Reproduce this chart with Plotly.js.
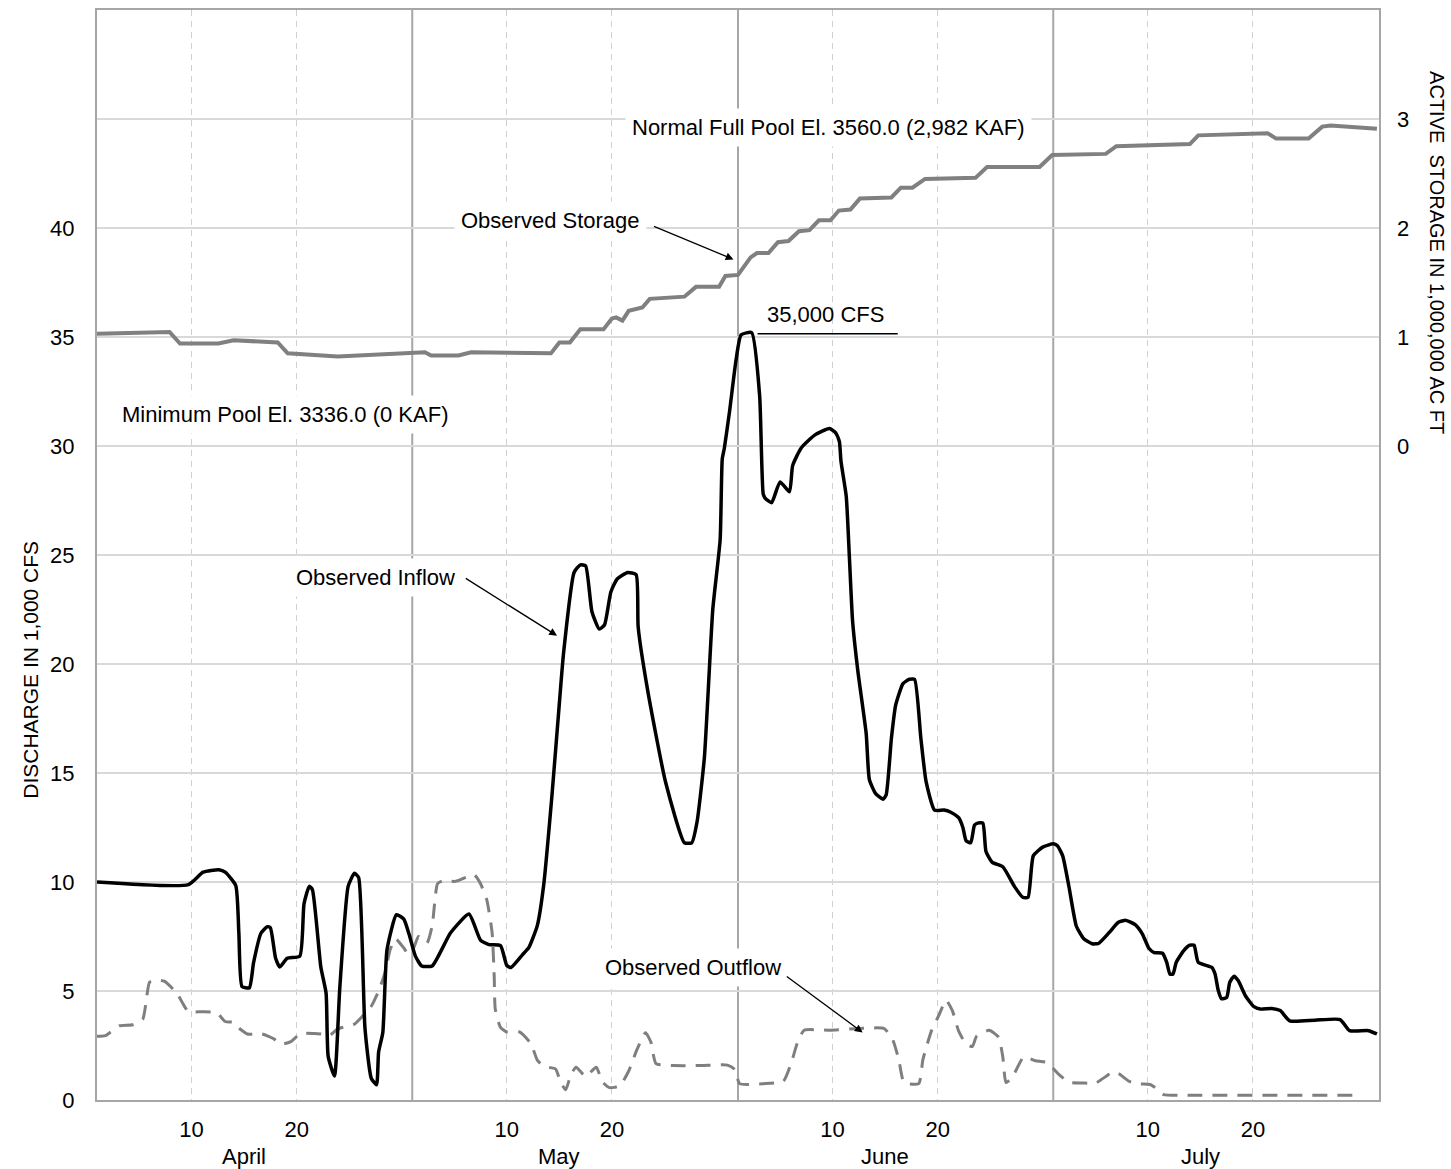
<!DOCTYPE html>
<html>
<head>
<meta charset="utf-8">
<script src="https://cdn.plot.ly/plotly-3.0.1.min.js"></script>
<style>html,body{margin:0;padding:0;background:#fff;}#chart{width:1451px;height:1169px;}</style>
</head>
<body>
<div id="chart"></div>
<script>
// ---- data (date as "month/day", fractional day allowed) ----
const inflowDate = ['4/1','4/9.7','4/11.1','4/12.6','4/13.2','4/14.2','4/14.5','4/14.8','4/15.5','4/15.9','4/16.6','4/17.2','4/17.5','4/18','4/18.4','4/19.1','4/20.3','4/20.7','4/21.2','4/21.5','4/22.3','4/22.8','4/23','4/23.6','4/24.1','4/24.9','4/25.5','4/25.9','4/26.5','4/27.1','4/27.6','4/27.8','4/28.2','4/28.6','4/29.5','4/30.2','4/30.7','5/1.3','5/1.9','5/2.9','5/4.65','5/6.4','5/7.5','5/8.3','5/9.4','5/10','5/10.4','5/11.5','5/12.1','5/12.9','5/13.5','5/14.3','5/15','5/15.4','5/16.4','5/17','5/17.5','5/18.1','5/18.8','5/19.3','5/19.9','5/20.5','5/21.5','5/22.3','5/22.5','5/23.4','5/25.1','5/26.9','5/27.6','5/28.1','5/28.8','5/29.6','5/30.3','5/30.5','5/30.7','5/31.2','5/31.8','6/1.3','6/2.3','6/3.06','6/3.4','6/3.6','6/4.2','6/5','6/5.9','6/6.2','6/7','6/8.3','6/9.7','6/10.3','6/10.65','6/10.8','6/11.3','6/11.6','6/11.9','6/12.4','6/13.2','6/13.5','6/14.1','6/14.8','6/15.1','6/15.6','6/16','6/16.7','6/17.3','6/17.8','6/18.4','6/18.9','6/19.7','6/20.6','6/21.25','6/22','6/22.4','6/22.7','6/23.15','6/23.5','6/23.8','6/24.3','6/24.6','6/25.2','6/26.2','6/27.3','6/28.1','6/28.6','6/29.1','6/30','7/1','7/1.4','7/1.9','7/2.5','7/3.2','7/3.9','7/4.7','7/5.3','7/6.3','7/7.2','7/7.9','7/8.8','7/9.5','7/10.1','7/10.6','7/11.4','7/11.8','7/12.1','7/12.4','7/12.7','7/13.4','7/14','7/14.4','7/14.8','7/16.1','7/16.4','7/16.7','7/17','7/17.5','7/17.8','7/18.2','7/18.6','7/19.3','7/20.1','7/20.7','7/21.8','7/22.6','7/23.5','7/25.9','7/28.3','7/29.2','7/31','7/31.8'];
const inflowKcfs = [10.0,9.88,10.45,10.56,10.45,9.85,7.65,5.2,5.15,6.3,7.65,7.95,7.9,6.5,6.1,6.5,6.6,9.0,9.8,9.65,6.1,4.9,2.0,1.1,5.1,9.8,10.4,10.2,3.3,1.0,0.7,2.2,3.1,6.9,8.5,8.3,7.6,6.6,6.15,6.15,7.67,8.53,7.33,7.13,7.08,6.17,6.08,6.67,7.0,8.0,9.83,14.0,18.2,20.5,24.2,24.55,24.5,22.4,21.6,21.8,23.3,23.9,24.2,24.1,21.7,18.8,14.6,11.8,11.8,12.75,15.7,22.5,25.7,29.4,29.9,31.6,33.9,35.1,35.2,32.3,27.8,27.6,27.4,28.35,27.9,29.1,29.9,30.5,30.8,30.6,30.2,29.3,27.7,24.9,22.0,19.7,16.8,14.7,14.05,13.8,14.0,16.6,18.1,19.1,19.3,19.3,16.6,14.6,13.3,13.3,13.2,12.95,12.5,11.9,11.8,12.6,12.7,12.7,11.4,10.9,10.7,9.8,9.3,9.3,11.2,11.6,11.75,11.66,11.2,9.77,7.97,7.4,7.17,7.18,7.67,8.15,8.24,8.04,7.6,6.96,6.76,6.73,6.31,5.78,5.78,6.31,6.84,7.1,7.1,6.31,6.08,5.78,5.03,4.65,4.7,5.4,5.68,5.48,4.77,4.28,4.17,4.2,4.1,3.63,3.66,3.69,3.18,3.18,3.03];

const outflowDate = ['4/1','4/1.8','4/3.1','4/4.4','4/5.35','4/6','4/6.6','4/7.4','4/8.6','4/9.2','4/9.7','4/11.1','4/12.4','4/13.2','4/14','4/14.3','4/15.3','4/16.7','4/17.85','4/18.3','4/18.8','4/19.45','4/20.1','4/20.7','4/22.3','4/23.1','4/23.9','4/25.5','4/26.3','4/27.1','4/27.8','4/28.4','4/28.9','4/29.4','4/30.2','4/30.6','5/1.15','5/1.6','5/2.4','5/2.9','5/3.4','5/3.86','5/5.1','5/5.9','5/6.9','5/7.5','5/8.1','5/8.6','5/8.8','5/8.9','5/9.4','5/10','5/11.2','5/12.3','5/12.9','5/13.5','5/14.65','5/15.1','5/15.6','5/16.1','5/16.6','5/17.5','5/18.5','5/19.1','5/19.7','5/20.2','5/20.8','5/21.6','5/22.4','5/23.2','5/23.7','5/24.2','5/25.9','5/28.5','5/31','5/31.7','6/1.16','6/3.4','6/5.3','6/6.1','6/6.7','6/7.3','6/9.7','6/12.5','6/14.9','6/15.7','6/16.3','6/16.8','6/18.2','6/18.6','6/19.4','6/20.1','6/20.8','6/21.4','6/22','6/22.7','6/23.3','6/23.7','6/24.9','6/25.8','6/26.2','6/26.5','6/27.1','6/28.2','6/29.3','6/30.4','7/1.5','7/2.5','7/3.75','7/5','7/6.1','7/6.6','7/7.2','7/8.2','7/9.1','7/10.2','7/10.9','7/11.5','7/13.9','7/30'];
const outflowKcfs = [2.92,2.95,3.4,3.45,3.7,5.4,5.5,5.45,4.9,4.4,4.05,4.05,4.0,3.6,3.56,3.38,3.03,3.03,2.8,2.58,2.58,2.68,2.95,3.06,3.03,2.95,3.26,3.48,3.86,4.3,5.0,5.83,6.9,7.4,6.97,6.7,7.0,7.5,7.2,8.0,9.92,10.05,10.03,10.17,10.33,9.92,9.17,7.67,5.67,4.17,3.33,3.12,3.12,2.58,1.83,1.55,1.42,0.83,0.47,1.17,1.5,1.08,1.5,0.83,0.58,0.58,0.67,1.33,2.33,3.08,2.67,1.67,1.58,1.58,1.6,1.4,0.75,0.75,0.85,1.75,2.7,3.2,3.2,3.28,3.28,2.8,1.86,0.8,0.75,1.86,3.16,3.87,4.58,4.1,3.16,2.57,2.45,2.92,3.2,2.88,1.98,0.8,1.04,1.98,1.8,1.72,1.19,0.81,0.78,0.77,1.11,1.27,1.22,0.86,0.74,0.71,0.51,0.25,0.22,0.22];

const storageDate = ['4/1','4/7.9','4/8.9','4/12.55','4/14','4/18.2','4/19.15','4/21.3','4/23.9','5/2.2','5/2.8','5/5.4','5/6.6','5/14.2','5/15','5/16','5/17','5/19.2','5/20','5/20.4','5/21','5/21.6','5/22.9','5/23.6','5/26.9','5/28','5/30.2','5/30.8','6/1','6/2.2','6/2.8','6/3.9','6/4.8','6/5.8','6/6.8','6/7.8','6/8.7','6/9.8','6/10.6','6/11.7','6/12.6','6/15.6','6/16.5','6/17.6','6/18.8','6/23.6','6/24.7','6/29.7','6/30.9','7/6','7/7','7/14','7/14.8','7/21.4','7/22.2','7/25.3','7/26.6','7/27.4','7/31.8'];
const storageMaf = [1.03,1.046,0.94,0.94,0.97,0.95,0.85,0.84,0.82,0.86,0.83,0.83,0.86,0.85,0.95,0.95,1.07,1.07,1.17,1.18,1.15,1.24,1.27,1.35,1.37,1.46,1.46,1.56,1.57,1.73,1.77,1.77,1.87,1.88,1.97,1.98,2.07,2.07,2.16,2.17,2.27,2.28,2.37,2.37,2.45,2.46,2.56,2.56,2.67,2.68,2.75,2.77,2.85,2.87,2.82,2.82,2.93,2.94,2.91];

const dayTickDates = ['4/10','4/20','5/10','5/20','6/10','6/20','7/10','7/20'];
const dayTickText = ['10','20','10','20','10','20','10','20'];
const monthLabelDates = ['4/15','5/15','6/15','7/15'];
const monthLabels = ['April','May','June','July'];
const monthBoundaryDates = ['5/1','6/1','7/1'];
const leftTicks = [0,5,10,15,20,25,30,35,40,45];
const leftTickText = ['0','5','10','15','20','25','30','35','40',''];
const rightTicks = [0,1,2,3];

// ---- helpers ----
const YEAR = 2011;
function toDate(s){
  const p = s.split('/');
  const m = +p[0], d = +p[1];
  const t = Date.UTC(YEAR, m-1, 1) + (d-1)*86400000;
  return new Date(t).toISOString().replace('T',' ').slice(0,19);
}
const FONT = '"Liberation Sans", Arial, sans-serif';

const traces = [
  {x: storageDate.map(toDate), y: storageMaf, yaxis:'y2', type:'scatter', mode:'lines',
   line:{color:'#808080', width:4}, hoverinfo:'skip'},
  {x: outflowDate.map(toDate), y: outflowKcfs, type:'scatter', mode:'lines',
   line:{color:'#7f7f7f', width:3, dash:'15px,10px', shape:'spline', smoothing:0.5}, hoverinfo:'skip'},
  {x: inflowDate.map(toDate), y: inflowKcfs, type:'scatter', mode:'lines',
   line:{color:'#000000', width:3.5, shape:'spline', smoothing:0.5}, hoverinfo:'skip'}
];

const shapes = monthBoundaryDates.map(d => ({
  type:'line', xref:'x', yref:'paper', x0:toDate(d), x1:toDate(d), y0:0, y1:1,
  line:{color:'#a6a6a6', width:2}, layer:'between'
}));
shapes.push({type:'line', xref:'x', yref:'y', x0:toDate('6/2.86'), x1:toDate('6/16.2'), y0:35.15, y1:35.15,
  line:{color:'#000', width:1.5}, layer:'above'});

const txt = {family:FONT, size:22, color:'#000'};
const annotations = [];
monthLabelDates.forEach((d,i)=>annotations.push({
  x:toDate(d), xref:'x', y:0, yref:'paper', yanchor:'middle', yshift:-56,
  text:monthLabels[i], showarrow:false, font:txt
}));
function label(d, y, t, bg){
  annotations.push({x:toDate(d), xref:'x', y:y, yref:'y', text:t, showarrow:false,
    font:txt, bgcolor: bg ? '#ffffff' : 'rgba(0,0,0,0)', borderpad:6, xanchor:'center', yanchor:'middle'});
}
function arrow(d0, y0, d1, y1){
  annotations.push({x:toDate(d1), y:y1, xref:'x', yref:'y', ax:toDate(d0), ay:y0, axref:'x', ayref:'y',
    text:'', showarrow:true, arrowhead:2, arrowsize:1.2, arrowwidth:1.3, arrowcolor:'#000', standoff:0, startstandoff:0});
}
label('6/9.6', 44.6, 'Normal Full Pool El. 3560.0 (2,982 KAF)', true);
label('5/14.2', 40.35, 'Observed Storage', true);
arrow('5/23.86', 40.1, '5/31.57', 38.56);
label('6/9.3', 36.04, '35,000 CFS', false);
label('4/18.9', 31.45, 'Minimum Pool El. 3336.0 (0 KAF)', true);
label('4/27.5', 23.97, 'Observed Inflow', true);
arrow('5/5.95', 23.97, '5/14.78', 21.3);
label('5/27.76', 6.08, 'Observed Outflow', true);
arrow('6/5.5', 5.72, '6/12.86', 3.1);
// axis titles
annotations.push({x:-0.052, xref:'paper', y:0.395, yref:'paper', text:'DISCHARGE IN 1,000 CFS',
  textangle:-90, showarrow:false, font:{family:FONT, size:21, color:'#000'}, xanchor:'center', yanchor:'middle'});
annotations.push({x:1.0452, xref:'paper', y:0.777, yref:'paper', text:'ACTIVE&nbsp; STORAGE IN 1,000,000 AC FT',
  textangle:90, showarrow:false, font:{family:FONT, size:20, color:'#000'}, xanchor:'center', yanchor:'middle'});

const layout = {
  width:1451, height:1169,
  margin:{l:97, r:72, t:10, b:69, pad:0},
  paper_bgcolor:'#fff', plot_bgcolor:'#fff',
  showlegend:false,
  font:{family:FONT, size:22, color:'#000'},
  xaxis:{type:'date', range:[toDate('4/1'), toDate('8/1')],
    tickmode:'array', tickvals:dayTickDates.map(toDate), ticktext:dayTickText,
    showgrid:true, gridcolor:'#d0d0d0', gridwidth:1, griddash:'6px,5px',
    showline:true, mirror:true, linecolor:'#a6a6a6', linewidth:2,
    ticks:'', ticklabelstandoff:9, zeroline:false, tickfont:{family:FONT, size:22, color:'#000'}},
  yaxis:{range:[0,50], tickmode:'array', tickvals:leftTicks, ticktext:leftTickText,
    showgrid:true, gridcolor:'#d9d9d9', gridwidth:2, zeroline:false,
    showline:true, mirror:true, linecolor:'#a6a6a6', linewidth:2,
    ticks:'', ticklabelstandoff:16, tickfont:{family:FONT, size:22, color:'#000'}},
  yaxis2:{overlaying:'y', side:'right', range:[-6,4], tickmode:'array', tickvals:rightTicks,
    showgrid:false, zeroline:false, showline:false, ticks:'', ticklabelstandoff:17,
    tickfont:{family:FONT, size:22, color:'#000'}},
  shapes:shapes,
  annotations:annotations
};

Plotly.newPlot('chart', traces, layout, {staticPlot:true, displayModeBar:false});
</script>
</body>
</html>
